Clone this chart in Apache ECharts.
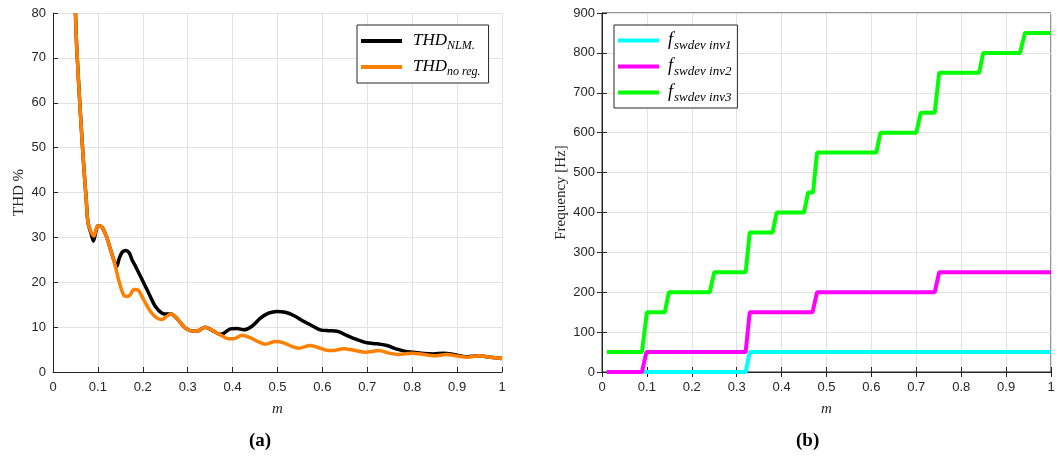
<!DOCTYPE html>
<html>
<head>
<meta charset="utf-8">
<script src="https://cdn.jsdelivr.net/npm/echarts@6/dist/echarts.min.js"></script>
<style>
  html, body { margin: 0; padding: 0; background: #fff; }
  #main { width: 1058px; height: 458px; }
</style>
</head>
<body>
<div id="main"></div>
<script>
  // (a) THD versus modulation index m, [m, THD %]
  const thdNlm = [
    [0.05, 80], [0.053, 72], [0.061, 57.7], [0.068, 46.6], [0.074, 38.4], [0.078, 33.2],
    [0.085, 30.8], [0.09, 29.2], [0.096, 31.5], [0.1, 32.6], [0.109, 32.3], [0.119, 30.2],
    [0.128, 27.3], [0.137, 24.5], [0.142, 23.5], [0.148, 25.5], [0.155, 26.8], [0.162, 27.1],
    [0.17, 26.5], [0.176, 25.0], [0.185, 23.3], [0.195, 21.3], [0.213, 17.6], [0.228, 14.6],
    [0.243, 13.1], [0.255, 12.9], [0.263, 12.9], [0.276, 11.9], [0.295, 9.8], [0.313, 9.1],
    [0.324, 9.2], [0.339, 10.0], [0.358, 9.1], [0.372, 8.4], [0.38, 8.6], [0.395, 9.6],
    [0.41, 9.7], [0.425, 9.4], [0.443, 10.2], [0.462, 12.0], [0.48, 13.1], [0.499, 13.5],
    [0.517, 13.3], [0.536, 12.6], [0.558, 11.3], [0.577, 10.3], [0.595, 9.4], [0.614, 9.2],
    [0.633, 9.1], [0.655, 8.1], [0.677, 7.2], [0.699, 6.5], [0.722, 6.3], [0.744, 5.9],
    [0.766, 5.1], [0.785, 4.6], [0.803, 4.4], [0.826, 4.1], [0.848, 4.0], [0.87, 4.2],
    [0.892, 3.9], [0.922, 3.4], [0.948, 3.6], [0.974, 3.3], [1.0, 3.0]
  ]
  const thdNoReg = [
    [0.05, 80], [0.053, 72], [0.061, 57.7], [0.068, 46.6], [0.074, 38.4], [0.078, 33.2],
    [0.085, 31.2], [0.091, 30.3], [0.096, 31.8], [0.1, 32.6], [0.109, 32.3], [0.119, 30.2],
    [0.128, 27.3], [0.137, 24.3], [0.146, 20.6], [0.157, 17.2], [0.165, 16.8], [0.172, 17.2],
    [0.18, 18.4], [0.19, 18.2], [0.202, 16.1], [0.217, 13.5], [0.232, 12.0], [0.243, 11.7],
    [0.252, 12.3], [0.263, 12.9], [0.276, 11.9], [0.295, 9.8], [0.313, 9.1], [0.324, 9.2],
    [0.339, 10.0], [0.358, 9.1], [0.376, 8.1], [0.391, 7.4], [0.402, 7.4], [0.421, 8.2],
    [0.44, 7.6], [0.458, 6.7], [0.473, 6.2], [0.495, 6.8], [0.514, 6.5], [0.532, 5.7],
    [0.547, 5.3], [0.573, 5.9], [0.595, 5.3], [0.614, 4.8], [0.625, 4.8], [0.647, 5.2],
    [0.673, 4.8], [0.696, 4.4], [0.707, 4.5], [0.725, 4.8], [0.748, 4.2], [0.77, 3.9],
    [0.8, 4.2], [0.826, 3.9], [0.848, 3.6], [0.877, 3.9], [0.903, 3.5], [0.922, 3.3],
    [0.948, 3.6], [0.974, 3.3], [1.0, 3.0]
  ]

  // (b) switching frequency deviation steps, [m, Hz]
  const fswInv1 = [[0.011, 0], [0.32, 0], [0.329, 50], [1, 50]]
  const fswInv2 = [
    [0.011, 0], [0.089, 0], [0.099, 50], [0.32, 50], [0.329, 150], [0.469, 150],
    [0.479, 200], [0.741, 200], [0.751, 250], [1, 250]
  ]
  const fswInv3 = [
    [0.011, 50], [0.089, 50], [0.1, 150], [0.14, 150], [0.149, 200], [0.24, 200],
    [0.25, 250], [0.32, 250], [0.329, 350], [0.38, 350], [0.389, 400], [0.45, 400],
    [0.459, 450], [0.47, 450], [0.479, 550], [0.611, 550], [0.62, 600], [0.70, 600],
    [0.71, 650], [0.741, 650], [0.751, 750], [0.84, 750], [0.849, 800], [0.931, 800],
    [0.942, 850], [1, 850]
  ]

  const seriesNamesA = ['THD_NLM', 'THD_noreg']
  const seriesNamesB = ['inv1', 'inv2', 'inv3']

  const axisColor = '#262626'
  const gridColor = '#e2e2e2'
  const sans = 'Liberation Sans'
  const serif = 'Liberation Serif'

  function xAxisFor (gridIndex, extra) {
    return Object.assign({
      type: 'value', gridIndex: gridIndex, min: 0, max: 1, interval: 0.1,
      name: 'm', nameLocation: 'middle', nameGap: 30,
      nameTextStyle: { fontFamily: serif, fontStyle: 'italic', fontSize: 15, color: axisColor },
      axisLine: { lineStyle: { color: axisColor, width: 1 } },
      axisTick: { inside: true, length: 5, lineStyle: { color: axisColor } },
      axisLabel: { color: axisColor, fontFamily: sans, fontSize: 13, margin: 9 },
      splitLine: { show: true, lineStyle: { color: gridColor } }
    }, extra || {})
  }

  function yAxisFor (gridIndex, extra) {
    return Object.assign({
      type: 'value', gridIndex: gridIndex, min: 0,
      nameLocation: 'middle',
      nameTextStyle: { fontFamily: serif, fontSize: 15, color: axisColor },
      axisLine: { show: true, lineStyle: { color: axisColor, width: 1 } },
      axisTick: { show: true, inside: true, length: 5, lineStyle: { color: axisColor } },
      axisLabel: { color: axisColor, fontFamily: sans, fontSize: 13, margin: 7 },
      splitLine: { show: true, lineStyle: { color: gridColor } }
    }, extra || {})
  }

  const boxAxis = {
    axisLabel: { show: false }, splitLine: { show: false }, name: '',
    axisLine: { show: true, lineStyle: { color: axisColor } },
    axisTick: { show: true, inside: true, length: 5, lineStyle: { color: axisColor } }
  }

  const legendSubA = { THD_NLM: 'NLM.', THD_noreg: 'no reg.' }
  const legendSubB = { inv1: 'swdev inv1', inv2: 'swdev inv2', inv3: 'swdev inv3' }

  const panelLabelRich = {
    p: { fontFamily: serif, fontSize: 19, color: '#000' },
    b: { fontFamily: serif, fontSize: 19, fontWeight: 'bold', color: '#000' }
  }

  const chart = echarts.init(document.getElementById('main'))
  chart.setOption({
    animation: false,
    backgroundColor: '#fff',
    title: [
      { text: '{p|(}{b|a}{p|)}', left: 244, top: 427, textStyle: { rich: panelLabelRich } },
      { text: '{p|(}{b|b}{p|)}', left: 791, top: 427, textStyle: { rich: panelLabelRich } }
    ],
    grid: [
      { left: 53, right: 556, top: 13, bottom: 86 },
      { left: 602, right: 7, top: 13, bottom: 86, show: true, borderColor: axisColor, borderWidth: 1 }
    ],
    legend: [
      {
        data: seriesNamesA, orient: 'vertical', left: 357, top: 25,
        icon: 'rect', itemWidth: 41, itemHeight: 4, itemGap: 4,
        padding: [5, 8, 5, 4],
        borderColor: axisColor, borderWidth: 1, backgroundColor: '#fff',
        formatter: function (name) { return '{main|THD}{sub|' + legendSubA[name] + '}' },
        textStyle: { rich: {
          main: { fontFamily: serif, fontStyle: 'italic', fontSize: 17, color: '#000', lineHeight: 24, padding: [0, 0, 0, 6] },
          sub: { fontFamily: serif, fontStyle: 'italic', fontSize: 12, color: '#000', lineHeight: 24, padding: [10, 0, 0, 0] }
        } }
      },
      {
        data: seriesNamesB, orient: 'vertical', left: 614, top: 25,
        icon: 'rect', itemWidth: 41, itemHeight: 4, itemGap: 3,
        padding: [4, 6, 4, 4],
        borderColor: axisColor, borderWidth: 1, backgroundColor: '#fff',
        formatter: function (name) { return '{main|f}{sub|' + legendSubB[name] + '}' },
        textStyle: { rich: {
          main: { fontFamily: serif, fontStyle: 'italic', fontSize: 18, color: '#000', lineHeight: 24, padding: [0, 1, 0, 4] },
          sub: { fontFamily: serif, fontStyle: 'italic', fontSize: 13, color: '#000', lineHeight: 24, padding: [10, 0, 0, 0] }
        } }
      }
    ],
    xAxis: [
      xAxisFor(0),
      xAxisFor(1),
      xAxisFor(1, Object.assign({ position: 'top' }, boxAxis))
    ],
    yAxis: [
      yAxisFor(0, { max: 80, interval: 10, name: 'THD %', nameGap: 26 }),
      yAxisFor(1, { max: 900, interval: 100, name: 'Frequency [Hz]', nameGap: 33 }),
      yAxisFor(1, Object.assign({ max: 900, interval: 100, position: 'right' }, boxAxis))
    ],
    series: [
      { name: 'THD_NLM', type: 'line', xAxisIndex: 0, yAxisIndex: 0, data: thdNlm,
        showSymbol: false, smooth: 0.3, clip: true, color: '#000', lineStyle: { width: 3.5 } },
      { name: 'THD_noreg', type: 'line', xAxisIndex: 0, yAxisIndex: 0, data: thdNoReg,
        showSymbol: false, smooth: 0.3, clip: true, color: '#ff8000', lineStyle: { width: 3.5 } },
      { name: 'inv1', type: 'line', xAxisIndex: 1, yAxisIndex: 1, data: fswInv1,
        showSymbol: false, color: '#00ffff', lineStyle: { width: 4 } },
      { name: 'inv2', type: 'line', xAxisIndex: 1, yAxisIndex: 1, data: fswInv2,
        showSymbol: false, color: '#ff00ff', lineStyle: { width: 4 } },
      { name: 'inv3', type: 'line', xAxisIndex: 1, yAxisIndex: 1, data: fswInv3,
        showSymbol: false, color: '#00ff00', lineStyle: { width: 4 } }
    ]
  })
</script>
</body>
</html>
